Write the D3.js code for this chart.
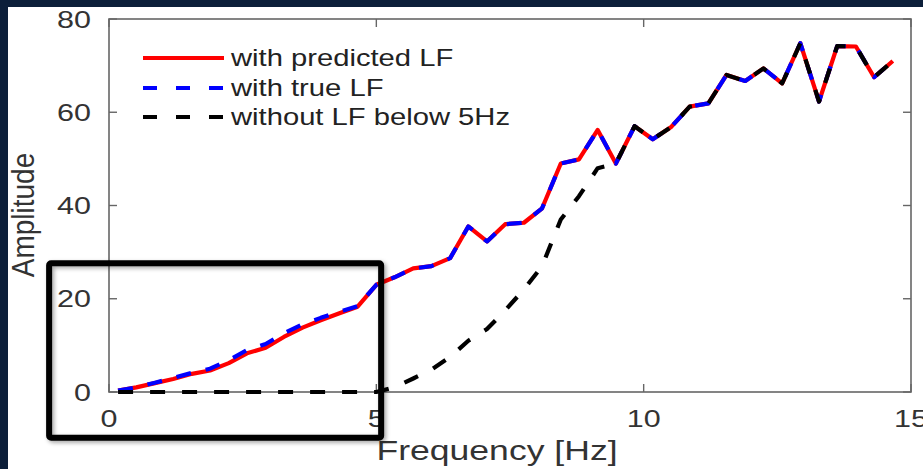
<!DOCTYPE html>
<html>
<head>
<meta charset="utf-8">
<script src="https://cdn.jsdelivr.net/npm/d3@7"></script>
<style>
  html, body { margin: 0; padding: 0; background: #0c1f3a; }
  svg { display: block; }
  text { font-family: "Liberation Sans", Arial, sans-serif; }
</style>
</head>
<body>
<div id="chart"></div>
<script>
let width = 923, height = 469;

// frequency samples [Hz]
let freq = [0.17, 0.51, 0.86, 1.20, 1.55, 1.89, 2.24, 2.58, 2.93, 3.27, 3.62, 3.96, 4.31, 4.65, 5.00,
    5.34, 5.69, 6.03, 6.38, 6.72, 7.07, 7.41, 7.76, 8.10, 8.45, 8.79, 9.14, 9.48, 9.83, 10.17,
    10.52, 10.86, 11.21, 11.55, 11.90, 12.24, 12.59, 12.93, 13.28, 13.62, 13.97, 14.31, 14.66];

// amplitude, with predicted LF
let predicted = [0.3, 1.0, 1.9, 2.8, 3.9, 4.6, 6.2, 8.3, 9.5, 11.8, 13.8, 15.4, 16.9, 18.3, 23.0,
    24.6, 26.5, 27.0, 28.7, 35.5, 32.3, 36.0, 36.3, 39.4, 49.0, 49.9, 56.2, 49.0, 57.0, 54.2,
    56.9, 61.2, 61.9, 68.0, 66.7, 69.4, 66.2, 74.8, 62.3, 74.2, 74.1, 67.5, 71.0];

// amplitude, with true LF
let trueLF = [0.3, 1.0, 2.0, 3.0, 4.1, 5.0, 6.8, 9.0, 10.3, 12.6, 14.5, 15.9, 17.2, 18.4, 23.0,
    24.6, 26.5, 27.0, 28.7, 35.5, 32.3, 36.0, 36.3, 39.4, 49.0, 49.9, 56.2, 49.0, 57.0, 54.2,
    56.9, 61.2, 61.9, 68.0, 66.7, 69.4, 66.2, 74.8, 62.3, 74.2, 74.1, 67.5, 71.0];

// amplitude, without LF below 5Hz
let noLF = [0, 0, 0, 0, 0, 0, 0, 0, 0, 0, 0, 0, 0, 0, 0,
    1.0, 2.9, 4.8, 7.5, 11.0, 13.5, 17.5, 22.0, 27.0, 37.0, 42.0, 48.0, 49.0, 57.0, 54.2,
    56.9, 61.2, 61.9, 68.0, 66.7, 69.4, 66.2, 74.8, 62.3, 74.2, 74.1, 67.5, 71.0];

let xTicks = [0, 5, 10, 15];
let yTicks = [0, 20, 40, 60, 80];
let legendLabels = ["with predicted LF", "with true LF", "without LF below 5Hz"];

// highlight box (in data units)
let boxFreq = [-1.12, 5.09];
let boxAmp = [27.6, -9.8];

let margin = {left: 109, right: 12, top: 19, bottom: 77};
let stretch = 1.27; // text in the figure is horizontally stretched

let svg = d3.select("#chart")
    .append("svg")
    .attr("width", width)
    .attr("height", height);

// white figure area inside the dark frame
svg.append("rect")
    .attr("x", 8).attr("y", 7)
    .attr("width", width - 8).attr("height", height - 7)
    .attr("fill", "white");

let x = d3.scaleLinear().domain([0, 15]).range([margin.left, width - margin.right]);
let y = d3.scaleLinear().domain([0, 80]).range([height - margin.bottom, margin.top]);

let axisColor = "#666";
let labelColor = "#333";

// axes box
svg.append("rect")
    .attr("x", x(0)).attr("y", y(80))
    .attr("width", x(15) - x(0)).attr("height", y(0) - y(80))
    .attr("fill", "none")
    .attr("stroke", axisColor)
    .attr("stroke-width", 1.6);

// ticks (inward, on all four sides)
let tickLen = 8;
let tickG = svg.append("g").attr("stroke", axisColor).attr("stroke-width", 1.4);
xTicks.forEach(t => {
    tickG.append("line").attr("x1", x(t)).attr("x2", x(t)).attr("y1", y(0)).attr("y2", y(0) - tickLen);
    tickG.append("line").attr("x1", x(t)).attr("x2", x(t)).attr("y1", y(80)).attr("y2", y(80) + tickLen);
});
yTicks.forEach(t => {
    tickG.append("line").attr("x1", x(0)).attr("x2", x(0) + tickLen).attr("y1", y(t)).attr("y2", y(t));
    tickG.append("line").attr("x1", x(15)).attr("x2", x(15) - tickLen).attr("y1", y(t)).attr("y2", y(t));
});

// tick labels
svg.append("g").selectAll("text")
    .data(xTicks).enter().append("text")
    .attr("transform", d => `translate(${x(d)},427) scale(${stretch},1)`)
    .attr("text-anchor", "middle")
    .attr("font-size", 24)
    .attr("fill", labelColor)
    .text(d => d);

svg.append("g").selectAll("text")
    .data(yTicks).enter().append("text")
    .attr("transform", d => `translate(91,${y(d) + 8.5}) scale(${stretch},1)`)
    .attr("text-anchor", "end")
    .attr("font-size", 24)
    .attr("fill", labelColor)
    .text(d => d);

// axis titles
svg.append("text")
    .attr("transform", `translate(${(x(0) + x(15)) / 2 - 13},460) scale(${stretch},1)`)
    .attr("text-anchor", "middle")
    .attr("font-size", 28)
    .attr("fill", labelColor)
    .text("Frequency [Hz]");

svg.append("text")
    .attr("transform", `translate(34,215) scale(1.12,1) rotate(-90)`)
    .attr("text-anchor", "middle")
    .attr("font-size", 28)
    .attr("fill", labelColor)
    .text("Amplitude");

// lines
let line = d3.line()
    .x((d, i) => x(freq[i]))
    .y(d => y(d));

let series = [
    {values: predicted, color: "#ff0000", dash: null},
    {values: trueLF, color: "#0000ff", dash: "15,15"},
    {values: noLF, color: "#000000", dash: "15,17"}
];

svg.append("g")
    .selectAll("path")
    .data(series)
    .enter()
    .append("path")
    .attr("d", d => line(d.values))
    .attr("fill", "none")
    .attr("stroke", d => d.color)
    .attr("stroke-width", 4.2)
    .attr("stroke-dasharray", d => d.dash)
    .attr("stroke-linejoin", "round");

// legend
let legend = svg.append("g").attr("class", "legend");
let rowY = [58, 88, 117];
series.forEach((s, i) => {
    legend.append("line")
        .attr("x1", 143).attr("x2", 224)
        .attr("y1", rowY[i]).attr("y2", rowY[i])
        .attr("stroke", s.color)
        .attr("stroke-width", 4)
        .attr("stroke-dasharray", s.dash ? "14,19" : null);
    legend.append("text")
        .attr("transform", `translate(231,${rowY[i] + 8}) scale(${stretch},1)`)
        .attr("font-size", 23)
        .attr("fill", "#222")
        .text(legendLabels[i]);
});

// highlight box with soft shadow
let defs = svg.append("defs");
let filter = defs.append("filter").attr("id", "shadow")
    .attr("x", "-10%").attr("y", "-10%").attr("width", "120%").attr("height", "120%");
filter.append("feDropShadow")
    .attr("dx", 2).attr("dy", 2).attr("stdDeviation", 2)
    .attr("flood-color", "#000").attr("flood-opacity", 0.35);

svg.append("rect")
    .attr("x", x(boxFreq[0])).attr("y", y(boxAmp[0]))
    .attr("width", x(boxFreq[1]) - x(boxFreq[0]))
    .attr("height", y(boxAmp[1]) - y(boxAmp[0]))
    .attr("rx", 2)
    .attr("fill", "none")
    .attr("stroke", "#000")
    .attr("stroke-width", 6)
    .attr("filter", "url(#shadow)");
</script>
</body>
</html>
